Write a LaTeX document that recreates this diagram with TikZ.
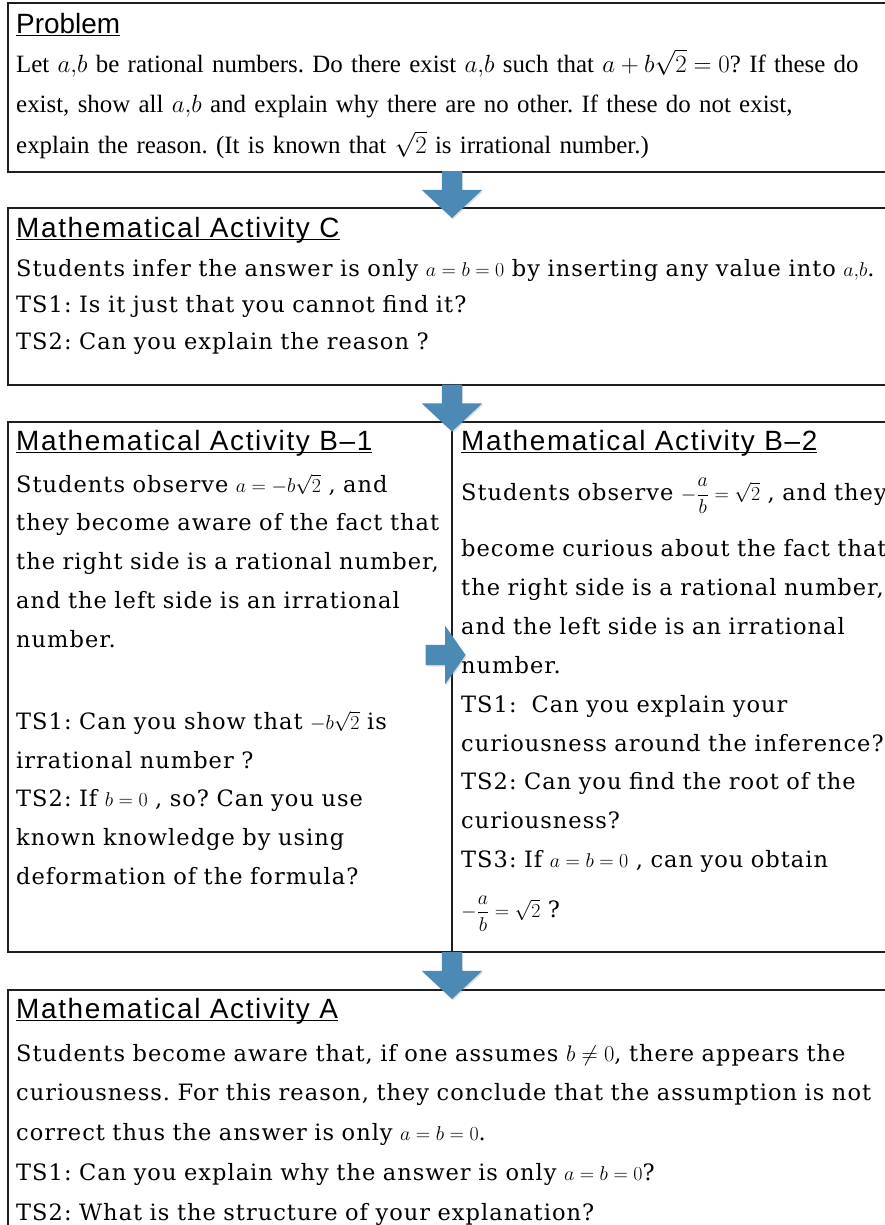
\documentclass[tikz,border=0pt]{standalone}
\usepackage{fix-cm}
\usepackage{amsmath}
\usepackage{fontspec}
\setmainfont[LetterSpace=4.5]{DejaVu Serif}
\newfontfamily\probfont{Liberation Serif}
\newfontfamily\probhead{Liberation Sans}
\newfontfamily\headfont[LetterSpace=6]{Liberation Sans}
\usetikzlibrary{shapes.arrows,shadows,calc}
\definecolor{FrameLine}{HTML}{1E1E1E}
\definecolor{ArrowBlue}{HTML}{4C8AB5}
% underlined heading, rule just under the baseline
\newcommand{\hd}[1]{\setbox0\hbox{#1}\rlap{\rule[-3bp]{\wd0}{1.3bp}}\box0}
% smaller inline maths
\newcommand{\mth}[1]{{\fontsize{20}{20}\selectfont$#1$}}

\begin{document}
\frenchspacing
\begin{tikzpicture}[x=1bp, y=-1bp,
	% frames of the four steps
	stepframe/.style={
		draw=FrameLine,
		line width=1.5bp,
		anchor=north west,
		inner sep=0,
		minimum width=900bp
	},
	% underlined headings
	heading/.style={
		anchor=base west,
		inner sep=0,
		font=\headfont\fontsize{28}{28}\selectfont
	},
	% running text
	body/.style={
		anchor=base west,
		inner sep=0,
		align=left,
		text width=870bp,
		font=\fontsize{22.6}{39}\selectfont
	},
	probtext/.style={
		body,
		font=\probfont\fontsize{25}{41}\selectfont
	},
	% block arrows between the steps
	flowarrow/.style={
		single arrow,
		fill=ArrowBlue,
		draw=none,
		inner sep=10bp,
		drop shadow={opacity=0.25, shadow xshift=1bp, shadow yshift=-1.5bp}
	},
	flowdown/.style={
		flowarrow,
		shape border rotate=270,
		single arrow head extend=20bp,
		single arrow tip angle=94,
		minimum height=47bp
	},
	flowright/.style={
		flowarrow,
		single arrow head extend=19bp,
		single arrow tip angle=110,
		minimum height=40bp
	}
	]
	
	\useasboundingbox (0,0) rectangle (885,1225);
	\clip (0,0) rectangle (885,1225);
	
	% ================= FRAMES =================
	\coordinate (split) at (452,0);
	\node[stepframe, minimum height=169bp] (prob) at (7,2)   {};
	\node[stepframe, minimum height=177bp] (actc) at (7,207) {};
	\node[stepframe, minimum height=530bp] (actb) at (7,421) {};
	\node[stepframe, minimum height=260bp] (acta) at (7,989) {};
	\draw[draw=FrameLine, line width=1.5bp] (actb.north -| split) -- (actb.south -| split);
	
	% ================= PROBLEM =================
	\node[heading, font=\probhead\fontsize{28}{28}\selectfont] (probhd) at (16,33) {\hd{Problem}};
	\node[probtext] (probtx) at (16,72) {Let $a{,}b$ be rational numbers. Do there exist $a{,}b$ such that $a+b\sqrt{2}=0$? If these do\\
		exist, show all $a{,}b$ and explain why there are no other. If these do not exist,\\
		explain the reason. (It is known that $\sqrt{2}$ is irrational number.)};
	
	% ================= ACTIVITY C =================
	\node[heading] (chd) at (16,237) {\hd{Mathematical Activity C}};
	\node[body, font=\fontsize{22.6}{37}\selectfont] (ctx) at (16,276) {Students infer the answer is only \mth{a=b=0} by inserting any value into \mth{a{,}b}.\\
		TS1: Is it just that you cannot find it?\\
		TS2: Can you explain the reason ?};
	
	% ================= ACTIVITY B =================
	\node[heading] (b1hd) at (16,450) {\hd{Mathematical Activity B–1}};
	\node[body] (b1tx) at (16,492) {Students observe \mth{a=-b\sqrt{2}} , and\\
		they become aware of the fact that\\
		the right side is a rational number,\\
		and the left side is an irrational\\
		number.\\[43bp]
		TS1: Can you show that \mth{-b\sqrt{2}} is\\
		irrational number ?\\
		TS2: If \mth{b=0} , so? Can you use\\
		known knowledge by using\\
		deformation of the formula?};
	
	\node[heading] (b2hd) at (461,450) {\hd{Mathematical Activity B–2}};
	\node[body] (b2tx) at (461,500) {Students observe \mth{-\dfrac{a}{b}=\sqrt{2}} , and they\\[18bp]
		become curious about the fact that\\
		the right side is a rational number,\\
		and the left side is an irrational\\
		number.\\
		TS1:\ \ Can you explain your\\
		curiousness around the inference?\\
		TS2: Can you find the root of the\\
		curiousness?\\
		TS3: If \mth{a=b=0} , can you obtain\\[11bp]
		\mth{-\dfrac{a}{b}=\sqrt{2}} ?};
	
	% ================= ACTIVITY A =================
	\node[heading] (ahd) at (16,1018) {\hd{Mathematical Activity A}};
	\node[body, font=\fontsize{22.6}{40}\selectfont] (atx) at (16,1061) {Students become aware that, if one assumes $b\neq0$, there appears the\\
		curiousness. For this reason, they conclude that the assumption is not\\
		correct thus the answer is only \mth{a=b=0}.\\
		TS1: Can you explain why the answer is only \mth{a=b=0}?\\
		TS2: What is the structure of your explanation?};
	
	% ================= ARROWS =================
	\node[flowdown] (arr1) at ($(prob.south -| split)!.5!(actc.north -| split)$) {};
	\node[flowdown] (arr2) at ($(actc.south -| split)!.5!(actb.north -| split)$) {};
	\node[flowright] (arr3) at (442,655) {};
	\node[flowdown] (arr4) at ($(actb.south -| split)!.5!(acta.north -| split)$) {};
	
\end{tikzpicture}
\end{document}
